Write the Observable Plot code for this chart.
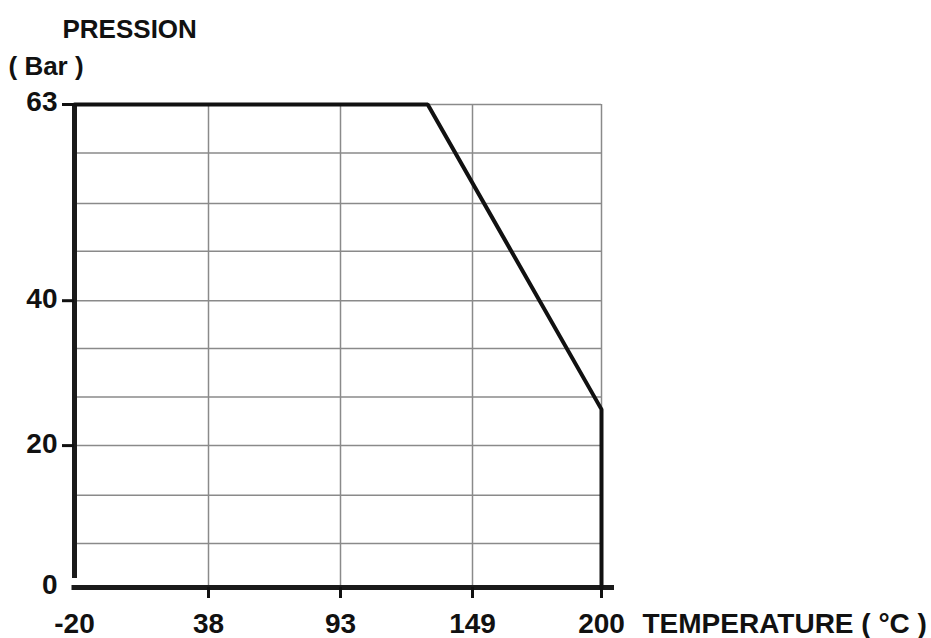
<!DOCTYPE html>
<html>
<head>
<meta charset="utf-8">
<script src="https://cdn.jsdelivr.net/npm/d3@7"></script>
<script src="https://cdn.jsdelivr.net/npm/@observablehq/plot@0.6"></script>
<style>
  html, body { margin: 0; padding: 0; background: #fff; }
  #chart svg { display: block; }
</style>
</head>
<body>
<div id="chart"></div>
<script>
// Tick labels
const tempTicks = [-20, 38, 93, 149, 200];
const pressTicks = [0, 20, 40, 63];
// Horizontal grid lines (pressure values of each grid row)
const gridPress = [6.2, 13, 20, 26.7, 33.4, 40, 45.8, 51.4, 57.3, 63];
// Vertical grid lines
const gridTemp = [38, 93, 149, 200];
// Pressure / temperature limit curve
const curveTemp = [-20, 130, 200, 200];
const curvePress = [63, 63, 25, 0];

const curve = curveTemp.map((t, i) => ({t, p: curvePress[i]}));

const W = 931, H = 638;
const mTop = 104, mBottom = 51, mLeft = 74, mRight = 330;
const yBottom = H - mBottom;
// grid rows: 0 at row 10, 20 at row 7, 40 at row 4, 63 at row 0
const rowH = (yBottom - mTop) / 10;
const yRange = [yBottom, yBottom - 3 * rowH + 3, yBottom - 6 * rowH + 3, mTop];
const xRange = [mLeft, 208, 340, 472, W - mRight];

const font = "'Liberation Sans', Arial, Helvetica, sans-serif";
const ink = "#111";

const chart = Plot.plot({
  width: W,
  height: H,
  marginTop: mTop,
  marginBottom: mBottom,
  marginLeft: mLeft,
  marginRight: mRight,
  style: {fontFamily: font, background: "#fff", overflow: "visible"},
  x: {type: "linear", domain: tempTicks, range: xRange, axis: null},
  y: {type: "linear", domain: pressTicks, range: yRange, axis: null},
  marks: [
    // grid
    Plot.ruleY(gridPress, {x1: -20, x2: 200, stroke: "#8a8a8a", strokeWidth: 1.5}),
    Plot.ruleX(gridTemp, {y1: 0, y2: 63, stroke: "#8a8a8a", strokeWidth: 1.5}),
    // axes
    Plot.ruleX([-20], {y1: 0, y2: 63, stroke: "#1a1a1a", strokeWidth: 5, insetTop: -9, insetBottom: -2}),
    Plot.ruleY([0], {x1: -20, x2: 200, stroke: "#1a1a1a", strokeWidth: 5, insetLeft: -2.5, insetRight: -13}),
    // tick marks
    Plot.ruleY(pressTicks.filter(d => d > 0), {x1: -20, x2: -20, insetLeft: -12, stroke: ink, strokeWidth: 3}),
    Plot.ruleX(tempTicks.filter(d => d > -20), {y1: 0, y2: 0, insetBottom: -11, stroke: ink, strokeWidth: 3}),
    // curve
    Plot.line(curve, {x: "t", y: "p", stroke: ink, strokeWidth: 4, strokeLinejoin: "miter"}),
    // tick labels
    Plot.text(tempTicks, {x: d => d, y: 0, dy: 37, text: d => String(d), fontSize: 28, fontWeight: "bold", fill: ink}),
    Plot.text(pressTicks, {x: -20, y: d => d, dx: -17, dy: -2, textAnchor: "end", text: d => String(d), fontSize: 28, fontWeight: "bold", fill: ink}),
    // axis titles
    Plot.text(["TEMPERATURE ( °C )"], {x: 200, y: 0, dx: 41, dy: 37, textAnchor: "start", fontSize: 28, fontWeight: "bold", fill: ink}),
    Plot.text(["PRESSION"], {x: -20, y: 63, dx: -12, dy: -75, textAnchor: "start", fontSize: 26, fontWeight: "bold", fill: ink}),
    Plot.text(["( Bar )"], {x: -20, y: 63, dx: -66, dy: -38, textAnchor: "start", fontSize: 26, fontWeight: "bold", fill: ink})
  ]
});

document.getElementById("chart").appendChild(chart);
</script>
</body>
</html>
